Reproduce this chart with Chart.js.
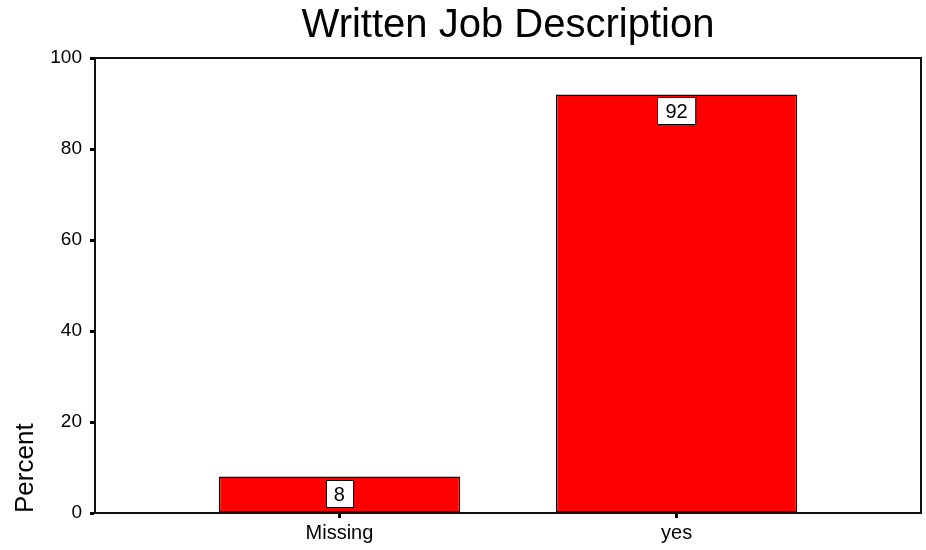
<!DOCTYPE html>
<html>
<head>
<meta charset="utf-8">
<title>Written Job Description</title>
<script src="https://cdn.jsdelivr.net/npm/chart.js@4/dist/chart.umd.min.js"></script>
<style>
  html, body { margin: 0; padding: 0; background: #ffffff; }
  #wrap { width: 926px; height: 550px; }
</style>
</head>
<body>
<div id="wrap"><canvas id="chart" width="926" height="550"></canvas></div>
<script>
// Categories and percentages
const categories = ['Missing', 'yes'];
const percentValues = [8, 92];
const yTickValues = [0, 20, 40, 60, 80, 100];

const FONT = '"Liberation Sans", Arial, Helvetica, sans-serif';

// Category positions on a numeric axis so the outer margins can be set freely
const points = categories.map((c, i) => ({ x: i, y: percentValues[i] }));

// Boxed value label near the top of each bar
const valueBoxes = {
  id: 'valueBoxes',
  afterDatasetsDraw(chart) {
    const ctx = chart.ctx;
    const meta = chart.getDatasetMeta(0);
    ctx.save();
    ctx.font = '20px ' + FONT;
    ctx.textAlign = 'center';
    ctx.textBaseline = 'middle';
    meta.data.forEach((bar, i) => {
      const text = String(percentValues[i]);
      const w = ctx.measureText(text).width + 16;
      const h = 27;
      const x = Math.round(bar.x - w / 2) + 0.5;
      const y = Math.round(bar.y + 3) + 0.5;
      ctx.fillStyle = '#ffffff';
      ctx.fillRect(x, y, w, h);
      ctx.strokeStyle = '#000000';
      ctx.lineWidth = 1;
      ctx.strokeRect(x, y, w, h);
      ctx.fillStyle = '#000000';
      ctx.fillText(text, bar.x, y + h / 2 + 1);
    });
    ctx.restore();
  }
};

// Closed frame round the plot area
const plotFrame = {
  id: 'plotFrame',
  afterDatasetsDraw(chart) {
    const { left, top, right, bottom } = chart.chartArea;
    const ctx = chart.ctx;
    ctx.save();
    ctx.strokeStyle = '#111111';
    ctx.lineWidth = 2;
    ctx.strokeRect(left, top, right - left, bottom - top);
    ctx.restore();
  }
};

new Chart(document.getElementById('chart'), {
  type: 'bar',
  data: {
    datasets: [{
      data: points,
      backgroundColor: '#ff0000',
      borderColor: '#1a0000',
      borderWidth: 1.5,
      borderSkipped: false,
      barPercentage: 1,
      categoryPercentage: 0.716
    }]
  },
  options: {
    responsive: false,
    animation: false,
    events: [],
    layout: { padding: { left: 0, right: 5, top: 0, bottom: 0 } },
    plugins: {
      legend: { display: false },
      tooltip: { enabled: false },
      title: {
        display: true,
        fullSize: false,
        text: 'Written Job Description',
        color: '#000000',
        font: { family: FONT, size: 40, weight: 'normal', lineHeight: 1.2 },
        padding: { top: 2, bottom: 8 }
      }
    },
    scales: {
      x: {
        type: 'linear',
        min: -0.725,
        max: 1.725,
        offset: false,
        afterBuildTicks(scale) {
          scale.ticks = categories.map((c, i) => ({ value: i }));
        },
        afterFit(scale) { scale.height = 37; },
        ticks: {
          color: '#000000',
          font: { family: FONT, size: 20 },
          padding: 3,
          maxRotation: 0,
          callback: (v) => categories[v] ?? ''
        },
        grid: {
          offset: false,
          drawOnChartArea: false,
          drawTicks: true,
          tickLength: 5,
          tickWidth: 3,
          tickColor: '#000000'
        },
        border: { display: true, color: '#000000', width: 2 }
      },
      y: {
        min: 0,
        max: 100,
        afterBuildTicks(scale) {
          scale.ticks = yTickValues.map(v => ({ value: v }));
        },
        afterFit(scale) { scale.width = 95; },
        ticks: {
          color: '#000000',
          font: { family: FONT, size: 19 },
          padding: 8
        },
        grid: {
          drawOnChartArea: false,
          drawTicks: true,
          tickLength: 5,
          tickWidth: 3,
          tickColor: '#000000'
        },
        border: { display: true, color: '#000000', width: 2 },
        title: {
          display: true,
          text: 'Percent',
          align: 'start',
          color: '#000000',
          font: { family: FONT, size: 26 },
          padding: { top: 10, bottom: 0 }
        }
      }
    }
  },
  plugins: [valueBoxes, plotFrame]
});
</script>
</body>
</html>
